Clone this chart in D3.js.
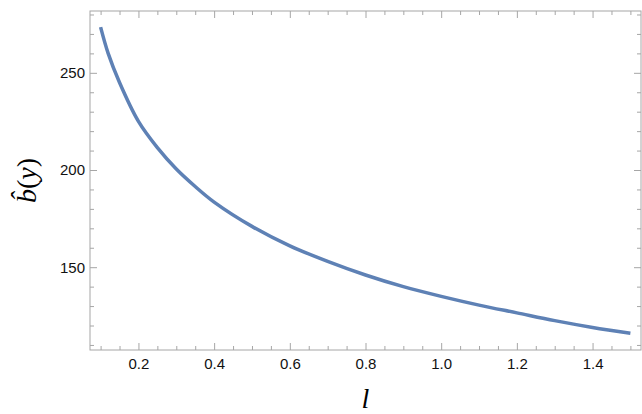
<!DOCTYPE html>
<html>
<head>
<meta charset="utf-8">
<script src="https://cdn.jsdelivr.net/npm/d3@7"></script>
<style>
  body { margin: 0; background: #fff; }
  svg { display: block; }
  .tick-label { font-family: "Liberation Sans", Arial, sans-serif; font-size: 15px; fill: #111; }
</style>
</head>
<body>
<svg id="chart" width="642" height="414"></svg>
<script>
// values
const lValues = [0.1, 0.12, 0.15, 0.2, 0.25, 0.3, 0.35, 0.4, 0.5, 0.6, 0.7, 0.8, 0.9, 1.0, 1.1, 1.2, 1.3, 1.4, 1.5];
const bValues = [273.5, 260, 245, 225, 211.5, 200.5, 191.5, 183.5, 171, 161, 153, 146, 140, 135, 130.5, 126.5, 122.5, 119, 116];
const xTicks = [0.2, 0.4, 0.6, 0.8, 1.0, 1.2, 1.4];
const yTicks = [150, 200, 250];

const frame = { left: 90, right: 641, top: 11, bottom: 350 };
const lineColor = "#5E81B5";
const frameColor = "#a6a6a6";

const svg = d3.select("#chart");

const xScale = d3.scaleLinear()
    .domain([0.072, 1.528])
    .range([frame.left, frame.right]);
const yScale = d3.scaleLinear()
    .domain([107.4, 281.8])
    .range([frame.bottom, frame.top]);

const xMinor = d3.range(0.1, 1.5001, 0.05).map(v => +v.toFixed(2)).filter(v => !xTicks.some(t => Math.abs(t - v) < 1e-6));
const yMinor = d3.range(110, 281, 10).filter(v => !yTicks.includes(v));

const major = 7, minor = 4;

// frame ticks, all pointing inward
const bottomAxis = d3.axisBottom(xScale).tickValues(xTicks).tickFormat(d3.format(".1f")).tickSize(-major).tickPadding(8).tickSizeOuter(0);
const topAxis = d3.axisTop(xScale).tickValues(xTicks).tickFormat("").tickSize(-major).tickSizeOuter(0);
const leftAxis = d3.axisLeft(yScale).tickValues(yTicks).tickSize(-major).tickPadding(5).tickSizeOuter(0);
const rightAxis = d3.axisRight(yScale).tickValues(yTicks).tickFormat("").tickSize(-major).tickSizeOuter(0);

const addAxis = (axis, tx, ty) => svg.append("g")
    .attr("transform", `translate(${tx},${ty})`)
    .call(axis)
    .call(g => g.select(".domain").remove())
    .call(g => g.selectAll("line").attr("stroke", frameColor))
    .call(g => g.selectAll("text").attr("class", "tick-label").attr("fill", "#111"));

addAxis(bottomAxis, 0, frame.bottom);
addAxis(topAxis, 0, frame.top);
addAxis(leftAxis, frame.left, 0);
addAxis(rightAxis, frame.right, 0);

addAxis(d3.axisBottom(xScale).tickValues(xMinor).tickFormat("").tickSize(-minor).tickSizeOuter(0), 0, frame.bottom);
addAxis(d3.axisTop(xScale).tickValues(xMinor).tickFormat("").tickSize(-minor).tickSizeOuter(0), 0, frame.top);
addAxis(d3.axisLeft(yScale).tickValues(yMinor).tickFormat("").tickSize(-minor).tickSizeOuter(0), frame.left, 0);
addAxis(d3.axisRight(yScale).tickValues(yMinor).tickFormat("").tickSize(-minor).tickSizeOuter(0), frame.right, 0);

svg.append("rect")
    .attr("x", frame.left)
    .attr("y", frame.top)
    .attr("width", frame.right - frame.left)
    .attr("height", frame.bottom - frame.top)
    .attr("fill", "none")
    .attr("stroke", frameColor)
    .attr("stroke-width", 1);

const line = d3.line()
    .x(d => xScale(d[0]))
    .y(d => yScale(d[1]))
    .curve(d3.curveCatmullRom.alpha(0.5));

svg.append("path")
    .datum(d3.zip(lValues, bValues))
    .attr("d", line)
    .attr("fill", "none")
    .attr("stroke", lineColor)
    .attr("stroke-width", 3.5);

// axis labels
svg.append("text")
    .attr("x", (frame.left + frame.right) / 2)
    .attr("y", 408)
    .attr("text-anchor", "middle")
    .attr("font-family", "Liberation Serif, Times New Roman, serif")
    .attr("font-style", "italic")
    .attr("font-size", 28)
    .text("l");

const yLabel = svg.append("text")
    .attr("transform", `translate(36, ${(frame.top + frame.bottom) / 2}) rotate(-90)`)
    .attr("text-anchor", "middle")
    .attr("font-family", "Liberation Serif, Times New Roman, serif")
    .attr("font-size", 28);
yLabel.append("tspan").attr("font-style", "italic").text("b\u0302");
yLabel.append("tspan").text("(");
yLabel.append("tspan").attr("font-style", "italic").text("y");
yLabel.append("tspan").text(")");
</script>
</body>
</html>
